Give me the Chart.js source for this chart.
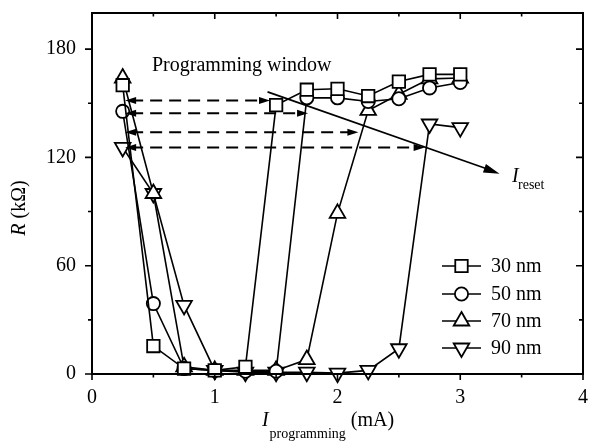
<!DOCTYPE html>
<html>
<head>
<meta charset="utf-8">
<script src="https://cdn.jsdelivr.net/npm/chart.js@4.4.0/dist/chart.umd.min.js"></script>
<style>
  html, body { margin: 0; padding: 0; background: #fff; }
  #wrap { width: 589px; height: 441px; }
</style>
</head>
<body>
<div id="wrap"><canvas id="chart" width="589" height="441"></canvas></div>
<script>
// programming current (mA)
const currents = [0.25, 0.5, 0.75, 1.0, 1.25, 1.5, 1.75, 2.0, 2.25, 2.5, 2.75, 3.0];

// resistance (kOhm) per cell size
const r30nm = [160, 15.5, 3, 2, 4, 149, 157.5, 158, 154, 162, 166, 166];
const r50nm = [145.5, 39, 3, 2, 1.5, 1.5, 153, 153, 151, 152.5, 158.5, 161.5];
const r70nm = [164, 100, 4, 2, 2, 2, 8, 89, 146, 155, 163.5, 164];
const r90nm = [125.5, 100, 38, 2, 1, 1, 1, 0.5, 2, 14, 138.5, 136.5];

const seriesLabels = ['30 nm', '50 nm', '70 nm', '90 nm'];

// axis ticks
const xMajorTicks = [0, 1, 2, 3, 4];
const xMinorTicks = [0.5, 1.5, 2.5, 3.5];
const yMajorTicks = [0, 60, 120, 180];
const yMinorTicks = [30, 90, 150];

// programming window arrows: resistance level, left and right current ends
const windowLevels = [151.5, 144.5, 134, 125.5];
const windowStart = [0.27, 0.27, 0.27, 0.27];
const windowEnd = [1.45, 1.76, 2.17, 2.71];

// I_reset arrow (current, resistance) start and end
const resetFrom = [1.43, 156.3];
const resetTo = [3.32, 111];

const SERIF = '"Liberation Serif", "Times New Roman", serif';

function makeSet(label, values, style, rotation, radius) {
    return {
        label: label,
        data: currents.map((x, i) => ({ x: x, y: values[i] })),
        showLine: true,
        borderColor: '#000',
        borderWidth: 1.6,
        pointStyle: style,
        pointRotation: rotation,
        pointRadius: radius,
        pointHoverRadius: radius,
        pointBackgroundColor: '#fff',
        pointBorderColor: '#000',
        pointBorderWidth: 1.8,
        clip: false
    };
}

function arrowHead(ctx, x1, y1, x2, y2, len, half) {
    const a = Math.atan2(y2 - y1, x2 - x1);
    ctx.beginPath();
    ctx.moveTo(x2, y2);
    ctx.lineTo(x2 - len * Math.cos(a) + half * Math.sin(a), y2 - len * Math.sin(a) - half * Math.cos(a));
    ctx.lineTo(x2 - len * Math.cos(a) - half * Math.sin(a), y2 - len * Math.sin(a) + half * Math.cos(a));
    ctx.closePath();
    ctx.fill();
}

function drawMarker(ctx, ds, x, y) {
    ctx.save();
    ctx.fillStyle = '#fff';
    ctx.strokeStyle = '#000';
    ctx.lineWidth = ds.pointBorderWidth;
    if (Chart.helpers && Chart.helpers.drawPoint) {
        Chart.helpers.drawPoint(ctx, {
            pointStyle: ds.pointStyle,
            rotation: ds.pointRotation,
            radius: ds.pointRadius,
            borderWidth: ds.pointBorderWidth
        }, x, y);
    }
    ctx.restore();
}

// drop the automatic label overflow padding so the plot frame sits where it should
function noPadding(s) {
    s.paddingTop = 0;
    s.paddingBottom = 0;
    s.paddingLeft = 0;
    s.paddingRight = 0;
}

const annotations = {
    id: 'annotations',
    afterDatasetsDraw(chart) {
        const ctx = chart.ctx;
        const xs = chart.scales.x, ys = chart.scales.y;
        ctx.save();
        ctx.strokeStyle = '#000';
        ctx.fillStyle = '#000';

        // dashed double arrows
        ctx.lineWidth = 2;
        windowLevels.forEach((lvl, i) => {
            const y = ys.getPixelForValue(lvl);
            const xa = xs.getPixelForValue(windowStart[i]);
            const xb = xs.getPixelForValue(windowEnd[i]);
            ctx.setLineDash([12, 7]);
            ctx.beginPath();
            ctx.moveTo(xa + 6, y);
            ctx.lineTo(xb - 6, y);
            ctx.stroke();
            ctx.setLineDash([]);
            arrowHead(ctx, xb, y, xa, y, 11, 3.5);
            arrowHead(ctx, xa, y, xb, y, 11, 3.5);
        });

        // I_reset arrow
        const p1x = xs.getPixelForValue(resetFrom[0]), p1y = ys.getPixelForValue(resetFrom[1]);
        const p2x = xs.getPixelForValue(resetTo[0]), p2y = ys.getPixelForValue(resetTo[1]);
        ctx.lineWidth = 1.6;
        ctx.beginPath();
        ctx.moveTo(p1x, p1y);
        ctx.lineTo(p2x - 10, p2y - 4);
        ctx.stroke();
        arrowHead(ctx, p1x, p1y, p2x, p2y, 16, 4.5);
        ctx.restore();
    },
    afterDraw(chart) {
        const ctx = chart.ctx;
        const a = chart.chartArea;
        const xs = chart.scales.x, ys = chart.scales.y;
        ctx.save();
        ctx.strokeStyle = '#000';
        ctx.fillStyle = '#000';

        // frame
        ctx.lineWidth = 2;
        ctx.strokeRect(a.left, a.top, a.right - a.left, a.bottom - a.top);

        // ticks: outward on left/bottom, inward on top/right
        ctx.lineWidth = 1.6;
        ctx.beginPath();
        xMajorTicks.forEach(v => {
            const x = xs.getPixelForValue(v);
            ctx.moveTo(x, a.bottom); ctx.lineTo(x, a.bottom + 6);
            ctx.moveTo(x, a.top); ctx.lineTo(x, a.top + 6);
        });
        xMinorTicks.forEach(v => {
            const x = xs.getPixelForValue(v);
            ctx.moveTo(x, a.bottom); ctx.lineTo(x, a.bottom + 3.5);
            ctx.moveTo(x, a.top); ctx.lineTo(x, a.top + 3.5);
        });
        yMajorTicks.forEach(v => {
            const y = ys.getPixelForValue(v);
            ctx.moveTo(a.left - 7, y); ctx.lineTo(a.left, y);
            ctx.moveTo(a.right - 7, y); ctx.lineTo(a.right, y);
        });
        yMinorTicks.forEach(v => {
            const y = ys.getPixelForValue(v);
            ctx.moveTo(a.left - 4, y); ctx.lineTo(a.left, y);
            ctx.moveTo(a.right - 4, y); ctx.lineTo(a.right, y);
        });
        ctx.stroke();

        // text labels
        ctx.textBaseline = 'alphabetic';
        ctx.textAlign = 'left';
        ctx.font = '20px ' + SERIF;
        ctx.fillText('Programming window', 152, 71);

        ctx.font = 'italic 20px ' + SERIF;
        ctx.fillText('I', 512, 182);
        ctx.font = '14px ' + SERIF;
        ctx.fillText('reset', 518, 189);

        // x axis title
        const xt = { i: 'I', sub: 'programming', unit: ' (mA)' };
        ctx.font = 'italic 20px ' + SERIF;
        const wI = ctx.measureText(xt.i).width;
        ctx.font = '14px ' + SERIF;
        const wSub = ctx.measureText(xt.sub).width;
        ctx.font = '20px ' + SERIF;
        const wUnit = ctx.measureText(xt.unit).width;
        let tx = (a.left + a.right) / 2 - (wI + wSub + wUnit) / 2 - 10;
        ctx.font = 'italic 20px ' + SERIF;
        ctx.fillText(xt.i, tx, 426);
        tx += wI + 1;
        ctx.font = '14px ' + SERIF;
        ctx.fillText(xt.sub, tx, 438);
        tx += wSub;
        ctx.font = '20px ' + SERIF;
        ctx.fillText(xt.unit, tx, 426);

        // y axis title
        ctx.save();
        ctx.translate(25, 208);
        ctx.rotate(-Math.PI / 2);
        ctx.font = 'italic 20px ' + SERIF;
        const wR = ctx.measureText('R').width;
        ctx.font = '20px ' + SERIF;
        const wRest = ctx.measureText(' (kΩ)').width;
        let ty = -(wR + wRest) / 2;
        ctx.font = 'italic 20px ' + SERIF;
        ctx.fillText('R', ty, 0);
        ctx.font = '20px ' + SERIF;
        ctx.fillText(' (kΩ)', ty + wR, 0);
        ctx.restore();

        // legend
        const rowY = [266, 294, 321, 348];
        chart.data.datasets.forEach((ds, i) => {
            const y = rowY[i];
            ctx.lineWidth = ds.borderWidth;
            ctx.beginPath();
            ctx.moveTo(442, y);
            ctx.lineTo(481, y);
            ctx.stroke();
            drawMarker(ctx, ds, 461.5, y);
            ctx.fillStyle = '#000';
            ctx.font = '20px ' + SERIF;
            ctx.textBaseline = 'middle';
            ctx.fillText(ds.label, 491, y + 1);
        });
        ctx.restore();
    }
};

new Chart(document.getElementById('chart'), {
    type: 'scatter',
    data: {
        datasets: [
            makeSet(seriesLabels[0], r30nm, 'rect', 0, 8.8),
            makeSet(seriesLabels[1], r50nm, 'circle', 0, 6.6),
            makeSet(seriesLabels[2], r70nm, 'triangle', 0, 9),
            makeSet(seriesLabels[3], r90nm, 'triangle', 180, 9)
        ]
    },
    plugins: [annotations],
    options: {
        responsive: false,
        animation: false,
        events: [],
        layout: { autoPadding: false, padding: { top: 13, right: 6, left: 0, bottom: 0 } },
        plugins: {
            legend: { display: false },
            tooltip: { enabled: false },
            title: { display: false }
        },
        scales: {
            x: {
                type: 'linear',
                min: 0,
                max: 4,
                afterBuildTicks: s => { s.ticks = xMajorTicks.map(v => ({ value: v })); },
                afterFit: s => { s.height = 67; noPadding(s); },
                grid: { display: false, drawTicks: false },
                border: { display: false },
                ticks: {
                    color: '#000',
                    padding: 12,
                    maxRotation: 0,
                    font: { family: SERIF, size: 20 }
                }
            },
            y: {
                type: 'linear',
                min: 0,
                max: 200,
                afterBuildTicks: s => { s.ticks = yMajorTicks.map(v => ({ value: v })); },
                afterFit: s => { s.width = 92; noPadding(s); },
                grid: { display: false, drawTicks: false },
                border: { display: false },
                ticks: {
                    color: '#000',
                    padding: 16,
                    font: { family: SERIF, size: 20 }
                }
            }
        }
    }
});
</script>
</body>
</html>
